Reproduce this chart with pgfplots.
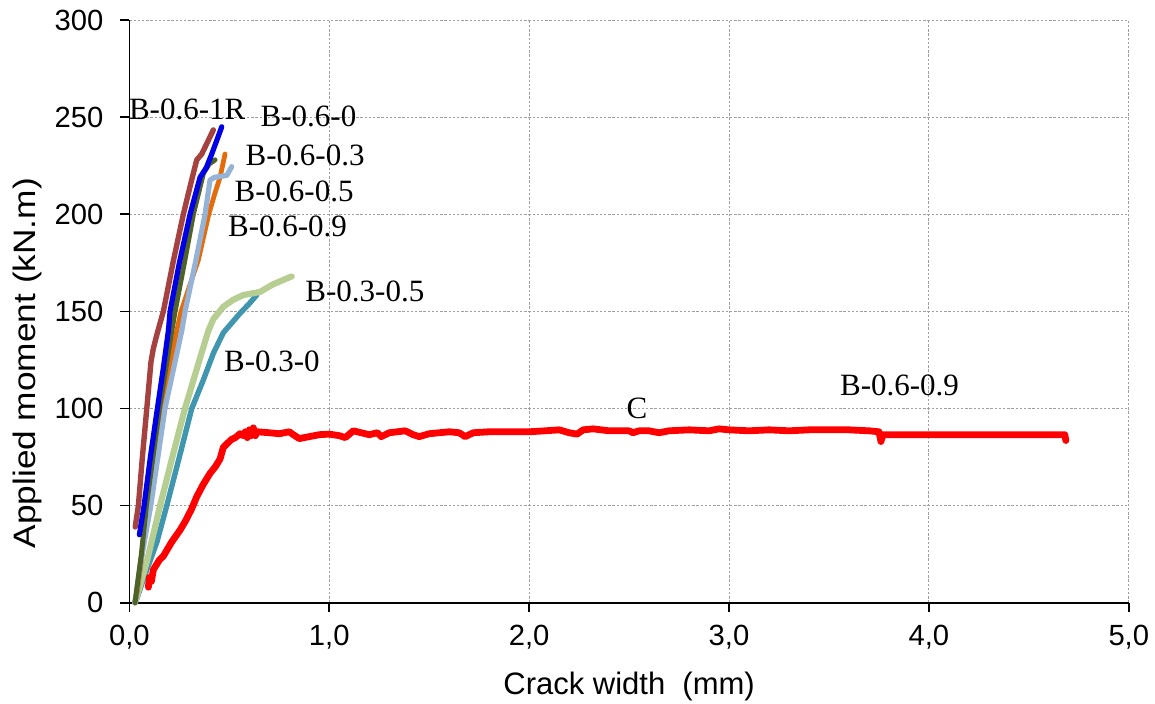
\documentclass[border=0pt]{standalone}
\usepackage{fontspec}
\setmainfont{Liberation Sans}
\newfontfamily\tnr{Liberation Serif}
\usepackage{graphicx}
\usepackage{pgfplots}
\pgfplotsset{compat=1.18}
\definecolor{cbrown}{RGB}{165,65,63}
\definecolor{cblue}{RGB}{0,0,230}
\definecolor{corange}{RGB}{228,108,10}
\definecolor{cdkgreen}{RGB}{79,98,40}
\definecolor{csteel}{RGB}{149,179,215}
\definecolor{cteal}{RGB}{65,150,175}
\definecolor{clgreen}{RGB}{183,206,146}
\definecolor{cred}{RGB}{255,0,0}
\begin{document}
\begin{tikzpicture}
\useasboundingbox (-64.7pt,-50.15pt) rectangle (512.8pt,301.35pt);
\begin{axis}[
  scale only axis,
  width=499.7pt, height=291.35pt,
  xmin=0, xmax=5, ymin=0, ymax=300,
  xtick={0,1,2,3,4,5}, ytick={0,50,100,150,200,250,300},
  axis x line*=bottom, axis y line*=left,
  axis line style={-, black, line width=0.8pt},
  tick align=outside, major tick length=4.5pt,
  tick style={black, line width=0.8pt},
  grid=major,
  major grid style={gray!75, line width=0.5pt, dash pattern=on 1.2pt off 0.9pt},
  /pgf/number format/assume math mode=true,
  ticklabel style={font=\fontsize{14.6}{17}\selectfont},
  xticklabel style={yshift=-3pt, /pgf/number format/.cd, fixed, fixed zerofill, precision=1, use comma},
  yticklabel style={xshift=-5pt, /pgf/number format/fixed},
  xlabel={Crack width\ \ (mm)},
  ylabel={\scalebox{1.137}[1]{Applied moment (kN.m)}},
  label style={font=\fontsize{15.5}{18}\selectfont},
  xlabel style={at={(axis description cs:0.5,-0.143)}, anchor=center},
  ylabel style={at={(axis description cs:-0.1019,0.411)}, anchor=center, rotate=0},
  clip=false,
]
\addplot[cteal, line width=2.7pt, line join=round, line cap=round] coordinates {
(0.03,0) (0.08,15) (0.137,31) (0.187,50) (0.25,75) (0.312,100) (0.37,114.7) (0.42,128.4) (0.47,139) (0.5535,149) (0.6,154) (0.637,158.4)};
\addplot[clgreen, line width=3.1pt, line join=round, line cap=round] coordinates {
(0.028,0) (0.087,21) (0.1535,50) (0.215,75) (0.278,100) (0.3535,126) (0.395,140) (0.42,146) (0.47,152.4) (0.52,156) (0.57,158.4) (0.6535,160) (0.72,164) (0.812,168)};
\addplot[cbrown, line width=2.7pt, line join=round, line cap=round] coordinates {
(0.029,39) (0.045,50) (0.065,75) (0.087,100) (0.108,124) (0.12,131) (0.14,139) (0.17,150) (0.22,176) (0.27,200) (0.31,217) (0.337,228) (0.362,231) (0.39,237) (0.42,243.4)};
\addplot[corange, line width=2.4pt, line join=round, line cap=round] coordinates {
(0.028,0) (0.04,6) (0.095,50) (0.162,100) (0.237,140) (0.2585,150) (0.345,176.5) (0.397,200) (0.4285,211) (0.4535,219) (0.4785,231)};
\addplot[csteel, line width=2.6pt, line join=round, line cap=round] coordinates {
(0.028,0) (0.055,20) (0.107,50) (0.178,100) (0.262,140) (0.2785,150) (0.33,175) (0.3785,200) (0.4035,217.6) (0.425,219) (0.4535,219.4) (0.487,220) (0.512,224.5)};
\addplot[cdkgreen, line width=2.5pt, line join=round, line cap=round] coordinates {
(0.028,0) (0.06,25) (0.085,50) (0.15,100) (0.212,140) (0.2285,150) (0.275,175) (0.32,200) (0.37,221) (0.40,226) (0.4285,228)};
\addplot[cblue, line width=2.6pt, line join=round, line cap=round] coordinates {
(0.05,35) (0.0735,50) (0.105,75) (0.14,100) (0.17,121) (0.195,140) (0.2035,150) (0.25,175) (0.3035,200) (0.3535,219) (0.385,224) (0.412,231) (0.462,245)};
\addplot[cred, line width=3.4pt, line join=round, line cap=round] coordinates {
(0.095,8) (0.1,13) (0.11,11) (0.12,17) (0.15,22) (0.17,24) (0.21,31) (0.2535,37.4) (0.28,42) (0.31,48) (0.337,54.6) (0.37,61) (0.4035,66.6) (0.43,70) (0.4535,74) (0.47,80) (0.49,82) (0.51,84) (0.53,85) (0.5535,87) (0.57,86) (0.58,88) (0.59,85) (0.6,89) (0.61,86) (0.62,90) (0.63,86) (0.64,88) (0.7,87.5) (0.75,87) (0.8,88) (0.82,86.5) (0.85,84.5) (0.9,85.5) (0.95,86.5) (1.0,86.8) (1.05,86) (1.08,85) (1.12,88.5) (1.16,87.5) (1.2,86.5) (1.24,87.5) (1.26,85.5) (1.3,87.5) (1.34,88) (1.38,88.5) (1.42,86.5) (1.45,85.5) (1.5,87) (1.55,87.5) (1.6,88) (1.65,87.5) (1.68,85.5) (1.72,87.5) (1.8,88) (1.9,88) (2.0,88) (2.08,88.5) (2.15,89) (2.2,87.5) (2.24,86.8) (2.27,89) (2.32,89.5) (2.4,88.5) (2.5,88.5) (2.52,87.5) (2.55,88.5) (2.6,88.5) (2.65,87.5) (2.7,88.5) (2.8,89) (2.9,88.5) (2.95,89.5) (3.0,89) (3.1,88.5) (3.2,89) (3.3,88.5) (3.4,89) (3.5,89) (3.6,89) (3.7,88.5) (3.75,88) (3.76,83) (3.77,86.5) (3.8,86.5) (4.0,86.5) (4.3,86.5) (4.5,86.5) (4.68,86.5) (4.685,83.5)};
\begin{scope}[every node/.style={font=\tnr\fontsize{15.5}{18}\selectfont, inner sep=0pt}]
\node at (axis cs:0.289,254.2) {B-0.6-1R};
\node at (axis cs:0.896,250.3) {B-0.6-0};
\node at (axis cs:0.879,230.5) {B-0.6-0.3};
\node at (axis cs:0.824,211.6) {B-0.6-0.5};
\node at (axis cs:0.791,193.6) {B-0.6-0.9};
\node at (axis cs:1.178,160.5) {B-0.3-0.5};
\node at (axis cs:0.713,124) {B-0.3-0};
\node at (axis cs:2.539,100.2) {C};
\node at (axis cs:3.853,112) {B-0.6-0.9};
\end{scope}
\end{axis}
\end{tikzpicture}
\end{document}
